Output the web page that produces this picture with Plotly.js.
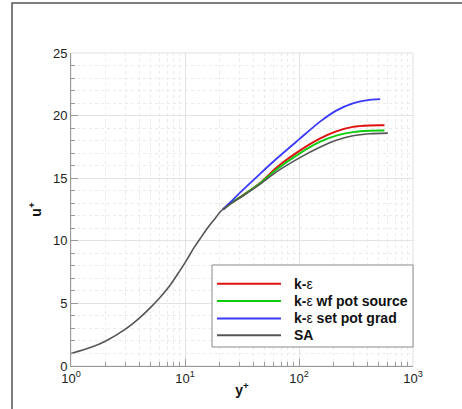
<!DOCTYPE html>
<html>
<head>
<meta charset="utf-8">
<script src="https://cdn.plot.ly/plotly-3.0.1.min.js"></script>
<style>
  html, body { margin: 0; padding: 0; background: #fff; }
  #chart { width: 462px; height: 409px; }
</style>
</head>
<body>
<div id="chart"></div>
<script>
// ---- data ----
var saYp  = [1, 1.5, 2, 3, 4, 5, 6, 7.4, 9, 10.4, 12, 13.6, 16, 18.3, 20.3, 21.5, 25, 32.4, 45.3, 63.4, 100, 152, 212, 297, 416, 601];
var saUp  = [1.0, 1.49, 1.98, 2.95, 3.85, 4.68, 5.45, 6.45, 7.6, 8.5, 9.45, 10.18, 11.1, 11.76, 12.3, 12.5, 12.95, 13.6, 14.5, 15.5, 16.6, 17.47, 18.03, 18.39, 18.55, 18.6];

var keYp  = [21.5, 25, 32.4, 45.3, 63.4, 100, 152, 212, 297, 416, 562];
var keUp  = [12.5, 12.97, 13.65, 14.6, 15.84, 17.16, 18.16, 18.74, 19.1, 19.21, 19.22];

var kewfYp = [21.5, 25, 32.4, 45.3, 63.4, 100, 152, 212, 297, 416, 562];
var kewfUp = [12.5, 12.97, 13.64, 14.57, 15.7, 16.95, 17.9, 18.4, 18.68, 18.79, 18.8];

var kespYp = [21.5, 25, 32.4, 45.3, 63.4, 100, 152, 212, 297, 416, 515];
var kespUp = [12.5, 13.08, 14.08, 15.33, 16.55, 18.1, 19.5, 20.4, 20.98, 21.26, 21.32];

var seriesNames  = ['k-\u03b5', 'k-\u03b5 wf pot source', 'k-\u03b5 set pot grad', 'SA'];
var seriesColors = ['#e01010', '#10cc10', '#3a3aff', '#555555'];
var xTickVals = [1, 10, 100, 1000];
var xTickText = ['10<sup>0</sup>', '10<sup>1</sup>', '10<sup>2</sup>', '10<sup>3</sup>'];

function legendLabel(s) {
  return s.replace('\u03b5', '<span style="font-weight:normal">\u03b5</span>');
}

var traces = [
  {x: keYp, y: keUp, name: seriesNames[0], mode: 'lines', line: {color: seriesColors[0], width: 2, shape: 'spline', smoothing: 0.8}},
  {x: kewfYp, y: kewfUp, name: seriesNames[1], mode: 'lines', line: {color: seriesColors[1], width: 2, shape: 'spline', smoothing: 0.8}},
  {x: kespYp, y: kespUp, name: seriesNames[2], mode: 'lines', line: {color: seriesColors[2], width: 1.8, shape: 'spline', smoothing: 0.8}},
  {x: saYp, y: saUp, name: seriesNames[3], mode: 'lines', line: {color: seriesColors[3], width: 1.6, shape: 'spline', smoothing: 0.8}}
];

var gridMajor = '#e3e3e3';
var gridMinor = '#ebebeb';

// legend box drawn in paper coordinates (plot area 342 x 313 px)
var legBox = {x0: 0.4123, x1: 1.0, y0: 0.0607, y1: 0.3227};
var legSample = {x0: 0.4269, x1: 0.614};
var legTextX = 0.6462;
var legRows = [0.2629, 0.2077, 0.1518, 0.0981];

var shapes = [
  {type: 'rect', xref: 'paper', yref: 'paper', x0: 0, x1: 1, y0: 0, y1: 1, line: {color: '#e0e0e0', width: 1}, layer: 'below'},
  {type: 'path', xref: 'paper', yref: 'paper', path: 'M -0.1725,-0.2 L -0.1725,1.1597 L 1.2,1.1597', line: {color: '#555', width: 1.5}},
  {type: 'rect', xref: 'paper', yref: 'paper', x0: legBox.x0, x1: legBox.x1, y0: legBox.y0, y1: legBox.y1,
   line: {color: '#8a8a8a', width: 1}, fillcolor: '#ffffff', layer: 'above'}
];
var annotations = [];
for (var i = 0; i < seriesNames.length; i++) {
  shapes.push({type: 'line', xref: 'paper', yref: 'paper', x0: legSample.x0, x1: legSample.x1, y0: legRows[i], y1: legRows[i],
               line: {color: seriesColors[i], width: 2}, layer: 'above'});
  annotations.push({xref: 'paper', yref: 'paper', x: legTextX, y: legRows[i], xanchor: 'left', yanchor: 'middle',
                    showarrow: false, text: legendLabel(seriesNames[i]),
                    font: {family: 'Liberation Sans, Arial, sans-serif', size: 14, color: '#111', weight: 'bold'}});
}

var layout = {
  width: 462, height: 409,
  margin: {l: 71, r: 49, t: 53, b: 43},
  paper_bgcolor: '#ffffff', plot_bgcolor: '#ffffff',
  font: {family: 'Liberation Sans, Arial, sans-serif', size: 13, color: '#222'},
  showlegend: false,
  xaxis: {
    type: 'log', range: [0, 3],
    tickmode: 'array', tickvals: xTickVals, ticktext: xTickText,
    ticks: 'inside', ticklen: 7, tickcolor: '#999', tickwidth: 1,
    showline: true, linecolor: '#999', linewidth: 1,
    showgrid: true, gridcolor: gridMajor, gridwidth: 1,
    zeroline: false,
    minor: {dtick: 'D1', ticks: 'inside', ticklen: 4, tickcolor: '#999', showgrid: true, gridcolor: gridMinor, griddash: 'dot'},
    tickfont: {size: 13, color: '#222'},
    title: {text: 'y<sup>+</sup>', font: {size: 14, color: '#111', weight: 'bold'}, standoff: 0},
    automargin: false
  },
  yaxis: {
    range: [0, 25], dtick: 5, tick0: 0,
    ticks: 'inside', ticklen: 7, tickcolor: '#999', tickwidth: 1,
    showline: true, linecolor: '#999', linewidth: 1,
    showgrid: true, gridcolor: gridMajor, gridwidth: 1,
    zeroline: false,
    minor: {dtick: 1, ticks: 'inside', ticklen: 4, tickcolor: '#999', showgrid: true, gridcolor: gridMinor, griddash: 'dot'},
    tickfont: {size: 13, color: '#222'},
    title: {text: 'u<sup>+</sup>', font: {size: 14, color: '#111', weight: 'bold'}, standoff: 8},
    automargin: false
  },
  shapes: shapes,
  annotations: annotations
};

Plotly.newPlot('chart', traces, layout, {displayModeBar: false, staticPlot: true});
</script>
</body>
</html>
